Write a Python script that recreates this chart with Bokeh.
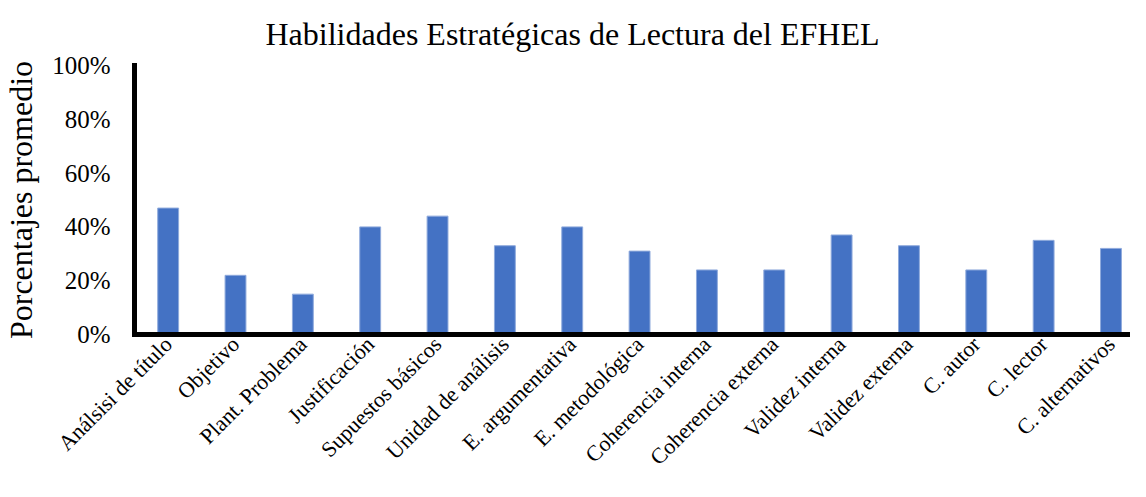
from bokeh.plotting import figure
from bokeh.models import Range1d, FixedTicker, NumeralTickFormatter, Title, ColumnDataSource
from bokeh.embed import file_html
from bokeh.resources import INLINE
import math

categories = ["Análsisi de título", "Objetivo", "Plant. Problema", "Justificación",
              "Supuestos básicos", "Unidad de análisis", "E. argumentativa",
              "E. metodológica", "Coherencia interna", "Coherencia externa",
              "Validez interna", "Validez externa", "C. autor", "C. lector",
              "C. alternativos"]
values = [0.47, 0.22, 0.15, 0.40, 0.44, 0.33, 0.40, 0.31, 0.24, 0.24,
          0.37, 0.33, 0.24, 0.35, 0.32]
y_ticks = [0, 0.2, 0.4, 0.6, 0.8, 1.0]

FONT = "Liberation Serif"
xs = list(range(len(categories)))
src = ColumnDataSource(dict(x=xs, top=values))

p = figure(width=1130, height=481, output_backend="svg", toolbar_location=None,
           x_range=Range1d(-0.5, 14.29), y_range=Range1d(0, 1),
           min_border_left=126, min_border_right=0, min_border_top=0, min_border_bottom=0)

p.title = Title(text="Habilidades Estratégicas de Lectura del EFHEL", align="left",
                offset=131, text_font=FONT, text_font_size="32px",
                text_font_style="normal", text_color="black", standoff=27)

p.vbar(x="x", top="top", width=0.31, bottom=0, source=src,
       fill_color="#4472C4", line_color="#8FAADC", line_width=1)

p.xgrid.visible = False
p.ygrid.visible = False
p.outline_line_color = None

p.xaxis.ticker = FixedTicker(ticks=xs)
p.xaxis.major_label_overrides = {i: c for i, c in enumerate(categories)}
p.xaxis.major_label_orientation = math.pi / 4
p.xaxis.major_label_text_font = FONT
p.xaxis.major_label_text_font_size = "22px"
p.xaxis.major_label_text_color = "black"
p.xaxis.major_tick_line_color = None
p.xaxis.minor_tick_line_color = None
p.xaxis.major_tick_out = 0
p.xaxis.major_label_standoff = 6

p.yaxis.ticker = FixedTicker(ticks=y_ticks)
p.yaxis.formatter = NumeralTickFormatter(format="0%")
p.yaxis.major_label_text_font = FONT
p.yaxis.major_label_text_font_size = "25px"
p.yaxis.major_label_text_color = "black"
p.yaxis.major_tick_line_color = None
p.yaxis.minor_tick_line_color = None
p.yaxis.major_tick_out = 0
p.yaxis.major_label_standoff = 24
p.yaxis.axis_label = "Porcentajes promedio"
p.yaxis.axis_label_text_font = FONT
p.yaxis.axis_label_text_font_size = "32px"
p.yaxis.axis_label_text_font_style = "normal"
p.yaxis.axis_label_text_color = "black"
p.yaxis.axis_label_standoff = 10

for ax in (p.xaxis, p.yaxis):
    ax.axis_line_color = "black"
    ax.axis_line_width = 5
    ax.axis_line_cap = "square"

open("out.html", "w").write(file_html(p, INLINE))
